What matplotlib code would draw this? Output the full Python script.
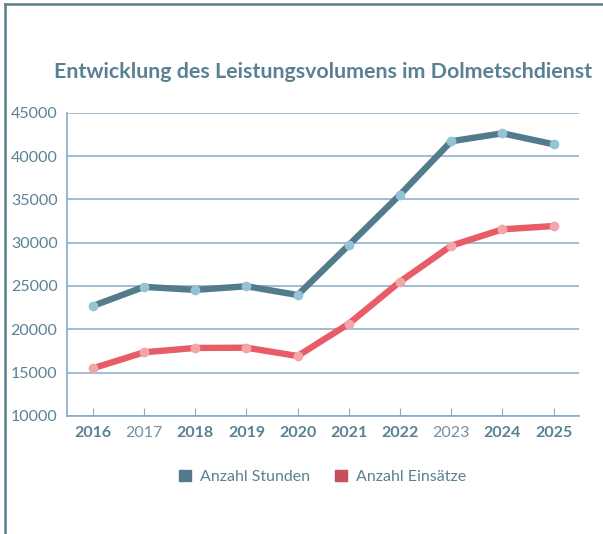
import matplotlib
matplotlib.use("Agg")
import matplotlib.pyplot as plt
from matplotlib.patches import Patch
from matplotlib.lines import Line2D

# data
years = [2016, 2017, 2018, 2019, 2020, 2021, 2022, 2023, 2024, 2025]
stunden = [22700, 24900, 24550, 24970, 23960, 29730, 35540, 41700, 42620, 41350]
einsaetze = [15500, 17350, 17850, 17880, 16920, 20650, 25500, 29650, 31540, 31920]
light_years = [2017, 2023]

TXT = "#5a8193"
GRID = "#86aac8"

plt.rcParams['font.family'] = ['Lato', 'DejaVu Sans']

fig = plt.figure(figsize=(6.03, 5.34), dpi=100)
ax = fig.add_axes([0.1116, 0.221, 0.849, 0.568])

ax.plot(years, stunden, color="#527c8b", lw=4.6, solid_capstyle="round",
        marker="o", ms=7, mfc="#93c3d5", mec="none", zorder=3)
ax.plot(years, einsaetze, color="#e85c66", lw=4.6, solid_capstyle="round",
        marker="o", ms=7, mfc="#f2a6aa", mec="none", zorder=3)

ax.set_xlim(2015.5, 2025.5)
ax.set_ylim(10000, 45000)
ax.set_yticks(range(10000, 45001, 5000))
ax.set_xticks(years)
ax.yaxis.grid(True, color=GRID, lw=1.1)
ax.set_axisbelow(True)
for s in ["top", "right"]:
    ax.spines[s].set_visible(False)
for s in ["left", "bottom"]:
    ax.spines[s].set_color(GRID)
    ax.spines[s].set_linewidth(1.2)
ax.tick_params(axis="y", length=0, pad=7, labelsize=11.5, labelcolor=TXT)
ax.tick_params(axis="x", direction="in", length=6, color=GRID, pad=7,
               labelsize=11.5, labelcolor=TXT)
for lab, yr in zip(ax.get_xticklabels(), years):
    lab.set_fontweight("normal" if yr in light_years else "bold")
    if yr in light_years:
        lab.set_color("#6f909f")

fig.text(0.535, 0.865, "Entwicklung des Leistungsvolumens im Dolmetschdienst",
         ha="center", va="center", fontsize=15.4, fontweight="bold", color=TXT)

handles = [Patch(color="#527c8b", label="Anzahl Stunden"),
           Patch(color="#c74f59", label="Anzahl Einsätze")]
leg = fig.legend(handles=handles, loc="center", bbox_to_anchor=(0.535, 0.107),
                 ncol=2, frameon=False, fontsize=11.5, handlelength=0.75,
                 handleheight=0.75, handletextpad=0.55, columnspacing=1.6)
for t in leg.get_texts():
    t.set_color(TXT)

# outer frame lines (left and top)
fig.add_artist(Line2D([0.009, 0.009], [0, 0.993], color="#5b7f8c", lw=1.8))
fig.add_artist(Line2D([0.009, 1.0], [0.993, 0.993], color="#5b7f8c", lw=1.8))

fig.savefig("out.png", dpi=100)
